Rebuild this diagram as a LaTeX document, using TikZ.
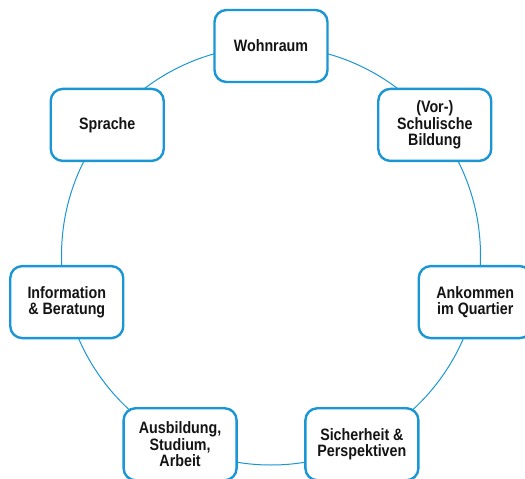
\documentclass[tikz,border=0pt]{standalone}
\usepackage{fontspec}
\usetikzlibrary{calc}
\newfontfamily\boxfont{Liberation Sans}[FakeStretch=0.865]
\definecolor{ringblue}{HTML}{1A96D4}
\definecolor{txt}{HTML}{141414}
\tikzset{
  box/.style={draw=ringblue, line width=2.4pt, fill=white, rounded corners=12pt,
    minimum width=113pt, minimum height=72pt, align=center, text=txt,
    font=\boxfont\bfseries\fontsize{16.5}{16.2}\selectfont, inner sep=2pt},
  ring/.style={draw=ringblue, line width=1pt}
}
\begin{document}
\begin{tikzpicture}[x=1pt,y=-1pt]
\useasboundingbox (0,0) rectangle (525,479);
\coordinate (c) at (271,255.5);
\draw[ring] (c) circle[radius=209.5];
\node[box] (wohn) at ($(c)+(-90:209.5)$) {Wohnraum};
\node[box] (schul) at ($(c)+(-38.571:209.5)$) {(Vor-)\\Schulische\\Bildung};
\node[box] (ank) at ($(c)+(12.857:209.5)$) {Ankommen\\im Quartier};
\node[box] (sich) at ($(c)+(64.286:209.5)$) {Sicherheit \&\\Perspektiven};
\node[box] (ausb) at ($(c)+(115.714:209.5)$) {Ausbildung,\\Studium,\\Arbeit};
\node[box] (info) at ($(c)+(167.143:209.5)$) {Information\\\& Beratung};
\node[box] (spr) at ($(c)+(218.571:209.5)$) {Sprache};
\end{tikzpicture}
\end{document}
